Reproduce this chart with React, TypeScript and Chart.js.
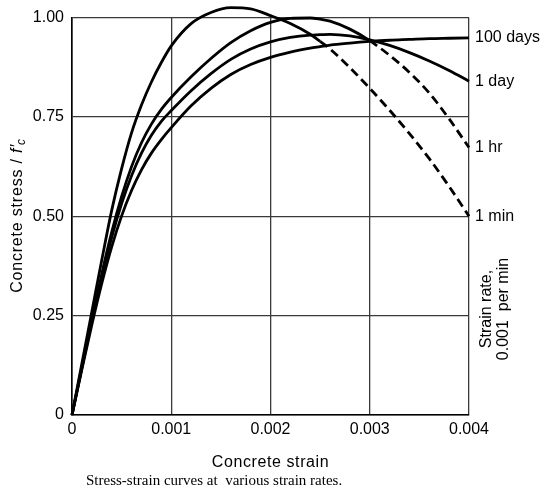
import React, { useEffect, useRef } from 'react';
import { Chart, registerables } from 'chart.js';

Chart.register(...registerables);

// Concrete strain (x) sample points shared by all curves
const strain = [0, 0.0001, 0.0002, 0.0003, 0.0004, 0.0005, 0.0006, 0.0007, 0.0008, 0.0009, 0.001, 0.0012, 0.0014, 0.0016, 0.0018, 0.002, 0.0022, 0.0024, 0.0025, 0.0026, 0.0028, 0.003, 0.0032, 0.0034, 0.0036, 0.0038, 0.004];

// Concrete stress / f'c for each strain rate
const stress1min = [0, 0.13, 0.26, 0.39, 0.515, 0.62, 0.71, 0.78, 0.838, 0.887, 0.929, 0.985, 1.013, 1.025, 1.022, 1.005, 0.985, 0.958, 0.94, 0.921, 0.874, 0.822, 0.767, 0.708, 0.645, 0.575, 0.5];
const stress1hr = [0, 0.12, 0.24, 0.355, 0.46, 0.55, 0.625, 0.685, 0.732, 0.769, 0.799, 0.851, 0.897, 0.937, 0.967, 0.988, 0.998, 0.999, 0.996, 0.991, 0.971, 0.942, 0.905, 0.862, 0.81, 0.745, 0.673];
const stress1day = [0, 0.12, 0.237, 0.347, 0.447, 0.532, 0.602, 0.659, 0.704, 0.739, 0.766, 0.816, 0.859, 0.895, 0.921, 0.939, 0.95, 0.956, 0.957, 0.958, 0.954, 0.944, 0.93, 0.912, 0.891, 0.867, 0.84];
const stress100days = [0, 0.115, 0.227, 0.331, 0.423, 0.501, 0.565, 0.617, 0.659, 0.693, 0.723, 0.778, 0.822, 0.857, 0.882, 0.9, 0.913, 0.923, 0.927, 0.931, 0.936, 0.94, 0.943, 0.945, 0.947, 0.948, 0.949];

const seriesLabels = ['1 min', '1 hr', '1 day', '100 days'];
const seriesValues = [stress1min, stress1hr, stress1day, stress100days];
// strain from which each curve is drawn dashed (null = solid throughout)
const dashedFrom: (number | null)[] = [0.0025, 0.003, null, null];

const xTicks = [0, 0.001, 0.002, 0.003, 0.004];
const yTicks = [0, 0.25, 0.5, 0.75, 1.0];
const xTickLabels = ['0', '0.001', '0.002', '0.003', '0.004'];
const yTickLabels = ['0', '0.25', '0.50', '0.75', '1.00'];

const xTitle = 'Concrete strain';
const yTitleMain = 'Concrete stress / ';
const rightTitle = ['Strain rate,', '0.001  per min'];
const caption = 'Stress-strain curves at  various strain rates.';

const SANS = '"Liberation Sans", Arial, Helvetica, sans-serif';
const SERIF = '"Liberation Serif", "Times New Roman", serif';

const annotPlugin = {
  id: 'annot',
  afterDraw(chart: any) {
    const { ctx, chartArea: a, scales } = chart;
    const ys = scales.y;
    ctx.save();
    ctx.fillStyle = '#000';
    ctx.font = `16px ${SANS}`;
    ctx.textBaseline = 'middle';
    ctx.textAlign = 'left';
    // curve end labels
    chart.data.datasets.forEach((ds: any) => {
      const last = ds.data[ds.data.length - 1];
      ctx.fillText(ds.label, a.right + 6, ys.getPixelForValue(last.y));
    });
    // right rotated title
    ctx.save();
    ctx.translate(a.right + 18, 309);
    ctx.rotate(-Math.PI / 2);
    ctx.textAlign = 'center';
    ctx.fillText(rightTitle[0], 0, 0);
    ctx.fillText(rightTitle[1], 0, 17);
    ctx.restore();

    // x title
    ctx.save();
    ctx.textAlign = 'center';
    try { (ctx as any).letterSpacing = '0.6px'; } catch (e) {}
    ctx.fillText(xTitle, (a.left + a.right) / 2, 463);
    ctx.restore();

    // y title with italic f'c
    ctx.save();
    ctx.translate(18, 215);
    ctx.rotate(-Math.PI / 2);
    ctx.textAlign = 'left';
    try { (ctx as any).letterSpacing = '0.8px'; } catch (e) {}
    const mainFont = `16px ${SANS}`;
    const itFont = `italic 16px ${SANS}`;
    const subFont = `italic 12px ${SANS}`;
    ctx.font = mainFont;
    const w1 = ctx.measureText(yTitleMain).width;
    ctx.font = itFont;
    const w2 = ctx.measureText('f\u2032').width;
    ctx.font = subFont;
    const w3 = ctx.measureText('c').width;
    const total = w1 + w2 + w3;
    let px = -total / 2;
    ctx.font = mainFont;
    ctx.fillText(yTitleMain, px, 0);
    px += w1;
    ctx.font = itFont;
    ctx.fillText('f\u2032', px, 0);
    px += w2;
    ctx.font = subFont;
    ctx.fillText('c', px - 1, 4);
    ctx.restore();

    // caption
    ctx.font = `15px ${SERIF}`;
    ctx.textAlign = 'left';
    ctx.fillText(caption, 86, 481);
    ctx.restore();
  },
};

export default function App() {
  const ref = useRef<HTMLCanvasElement | null>(null);
  useEffect(() => {
    if (!ref.current) return;
    const datasets = seriesValues.map((vals, i) => ({
      label: seriesLabels[i],
      data: strain.map((x, j) => ({ x, y: vals[j] })),
      borderColor: '#000',
      backgroundColor: '#000',
      borderWidth: 2.8,
      pointRadius: 0,
      fill: false,
      cubicInterpolationMode: 'monotone' as const,
      clip: false as any,
      borderJoinStyle: 'round' as const,
      segment: {
        borderDash: (ctx: any) => {
          const d = dashedFrom[i];
          return d !== null && ctx.p0.parsed.x >= d - 1e-9 ? [9, 5] : undefined;
        },
      },
    }));
    const chart = new Chart(ref.current, {
      type: 'line',
      data: { datasets },
      plugins: [annotPlugin],
      options: {
        animation: false,
        responsive: false,
        layout: { padding: { left: 0, top: 14, right: 73, bottom: 0 } },
        plugins: { legend: { display: false }, tooltip: { enabled: false } },
        scales: {
          x: {
            type: 'linear',
            min: 0,
            max: 0.004,
            afterBuildTicks: (s: any) => { s.ticks = xTicks.map((v) => ({ value: v })); },
            afterFit: (s: any) => { s.height = 77; },
            ticks: {
              color: '#000',
              font: { family: SANS, size: 16 },
              padding: 5,
              maxRotation: 0,
              callback: (v: any) => { const k = xTicks.findIndex((t) => Math.abs(t - v) < 1e-9); return k >= 0 ? xTickLabels[k] : ''; },
            },
            grid: { color: '#3a3a3a', lineWidth: 1.3, drawTicks: false },
            border: { display: true, color: '#000', width: 1.6 },
          },
          y: {
            type: 'linear',
            min: 0,
            max: 1,
            afterBuildTicks: (s: any) => { s.ticks = yTicks.map((v) => ({ value: v })); },
            afterFit: (s: any) => { s.width = 72; },
            ticks: {
              color: '#000',
              font: { family: SANS, size: 16 },
              padding: 8,
              callback: (v: any) => { const k = yTicks.findIndex((t) => Math.abs(t - v) < 1e-9); return k >= 0 ? yTickLabels[k] : ''; },
            },
            grid: { color: '#3a3a3a', lineWidth: 1.3, drawTicks: false },
            border: { display: true, color: '#000', width: 1.6 },
          },
        },
      },
    });
    return () => chart.destroy();
  }, []);
  return (
    <div style={{ position: 'absolute', left: 0, top: 0, width: 542, height: 492, background: '#fff' }}>
      <canvas ref={ref} width={542} height={492} style={{ display: 'block' }} />
    </div>
  );
}
